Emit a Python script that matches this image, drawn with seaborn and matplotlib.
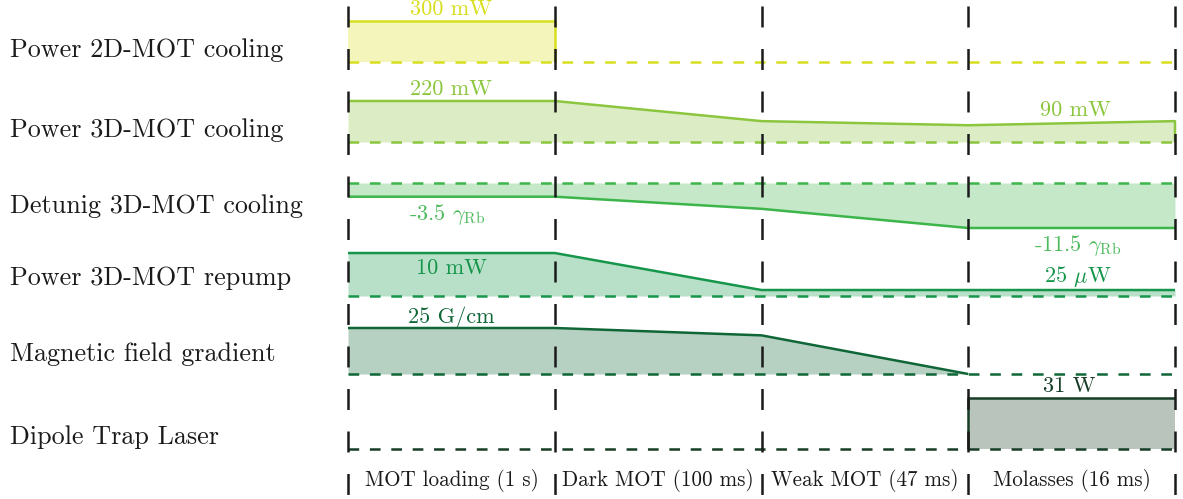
import matplotlib
matplotlib.use("Agg")
import numpy as np
import matplotlib.pyplot as plt
import seaborn as sns
import pandas as pd

# ---- sequence data -------------------------------------------------------
phases = ["MOT loading (1 s)", "Dark MOT (100 ms)", "Weak MOT (47 ms)", "Molasses (16 ms)"]
boundaries = [0, 1, 2, 3, 4]
channels = ["Power 2D-MOT cooling", "Power 3D-MOT cooling", "Detunig 3D-MOT cooling",
            "Power 3D-MOT repump", "Magnetic field gradient", "Dipole Trap Laser"]

cool2d_t = [0, 1, 1]
cool2d_mw = [300, 300, 0]

cool3d_t = [0, 1, 2, 3, 4, 4]
cool3d_mw = [220, 220, 112, 90, 112, 0]

detuning_t = [0, 1, 2, 3, 4]
detuning_gamma = [-3.5, -3.5, -6.6, -11.5, -11.5]

repump_t = [0, 1, 2, 3, 4]
repump_mw = [10, 10, 0.025, 0.025, 0.025]

gradient_t = [0, 1, 2, 3]
gradient_gcm = [25, 25, 21, 0]

dipole_t = [3, 3, 4]
dipole_w = [0, 31, 31]

# ---- styling --------------------------------------------------------------
sns.set_theme(style="white")
plt.rcParams["font.family"] = ["cmr10", "DejaVu Serif"]
plt.rcParams["mathtext.fontset"] = "cm"
plt.rcParams["axes.unicode_minus"] = False

colors = ["#d8df20", "#8cc63f", "#3cb54a", "#16964a", "#0f6637", "#173d27"]
label_colors = ["#d8df20", "#8cc63f", "#4dbb5c", "#16964a", "#0f6637", "#173d27"]
FILL_ALPHA = 0.3

# track layout (vertical, drawing units grow downward): reference line and height per unit
baselines = [62, 142, 183, 296, 374, 449]


def y_cool2d(v):
    return baselines[0] - np.asarray(v, float) * 41 / 300


def y_cool3d(v):
    return baselines[1] - np.asarray(v, float) * 41 / 220


def y_detuning(v):
    return baselines[2] - np.asarray(v, float) * 45 / 11.5


def y_repump(v):
    # logarithmic power axis for the repumper
    return baselines[3] - 14.22 * np.log10(np.asarray(v, float) / 0.0095)


def y_gradient(v):
    return baselines[4] - np.asarray(v, float) * 46 / 25


def y_dipole(v):
    return baselines[5] - np.asarray(v, float) * 51 / 31


W, H = 1183, 499
fig = plt.figure(figsize=(W / 100, H / 100), dpi=100)
ax = fig.add_axes([0, 0, 1, 1])
seg = (1175 - 348) / 4
ax.set_xlim(-348 / seg, (W - 348) / seg)
ax.set_ylim(H, 0)
ax.axis("off")

LW = 1.8
BLW = 1.8


def track(i, t, yvals, fill_t=None, fill_y=None):
    df = pd.DataFrame({"t": t, "y": yvals})
    sns.lineplot(data=df, x="t", y="y", ax=ax, sort=False, estimator=None,
                 color=colors[i], lw=LW, solid_capstyle="butt", legend=False)
    ft = t if fill_t is None else fill_t
    fy = yvals if fill_y is None else fill_y
    ax.fill_between(ft, fy, baselines[i], color=colors[i], alpha=FILL_ALPHA, lw=0)
    ax.plot([0, 4], [baselines[i], baselines[i]], color=colors[i], lw=BLW,
            linestyle=(0, (7.7 / BLW, 7.7 / BLW)), dash_capstyle="butt")


# phase boundary markers
for b in boundaries:
    ax.plot([b, b], [6, H], color="#1a1a1a", lw=LW, linestyle=(0, (15.1 / LW, 15.5 / LW)),
            dash_capstyle="butt", zorder=5)

track(0, cool2d_t, y_cool2d(cool2d_mw), fill_t=[0, 1], fill_y=y_cool2d([300, 300]))
track(1, cool3d_t, y_cool3d(cool3d_mw), fill_t=cool3d_t[:-1], fill_y=y_cool3d(cool3d_mw[:-1]))
track(2, detuning_t, y_detuning(detuning_gamma))
track(3, repump_t, y_repump(repump_mw))
track(4, gradient_t, y_gradient(gradient_gcm))
track(5, dipole_t, y_dipole(dipole_w), fill_t=[3, 4], fill_y=y_dipole([31, 31]))

# channel names
name_y = [50, 130, 206, 278, 354, 437]
for name, yy in zip(channels, name_y):
    ax.text(10 / seg - 348 / seg, yy, name, ha="left", va="center", fontsize=18.8, color="#1a1a1a")

# value annotations
vfs = 16
ax.text(0.5, y_cool2d(300) - 12, "300 mW", ha="center", va="center", fontsize=vfs, color=label_colors[0])
ax.text(0.5, y_cool3d(220) - 12, "220 mW", ha="center", va="center", fontsize=vfs, color=label_colors[1])
ax.text(3.52, y_cool3d(90) - 15, "90 mW", ha="center", va="center", fontsize=vfs, color=label_colors[1])
ax.text(0.48, y_detuning(-3.5) + 18, r"-3.5 $\mathrm{\gamma}_{\mathrm{Rb}}$", ha="center", va="center",
        fontsize=vfs, color=label_colors[2])
ax.text(3.53, y_detuning(-11.5) + 18, r"-11.5 $\mathrm{\gamma}_{\mathrm{Rb}}$", ha="center", va="center",
        fontsize=vfs, color=label_colors[2])
ax.text(0.5, y_repump(10) + 15, "10 mW", ha="center", va="center", fontsize=vfs, color=label_colors[3])
ax.text(3.53, y_repump(0.025) - 14, r"25 $\mathrm{\mu}$W", ha="center", va="center", fontsize=vfs,
        color=label_colors[3])
ax.text(0.5, y_gradient(25) - 10, "25 G/cm", ha="center", va="center", fontsize=vfs, color=label_colors[4])
ax.text(3.49, y_dipole(31) - 12, "31 W", ha="center", va="center", fontsize=vfs, color=label_colors[5])

# phase names along the bottom
for k, ph in enumerate(phases):
    ax.text(k + 0.5, 481, ph, ha="center", va="center", fontsize=15.2, color="#1a1a1a")

fig.savefig("out.png", dpi=100, facecolor="white")
